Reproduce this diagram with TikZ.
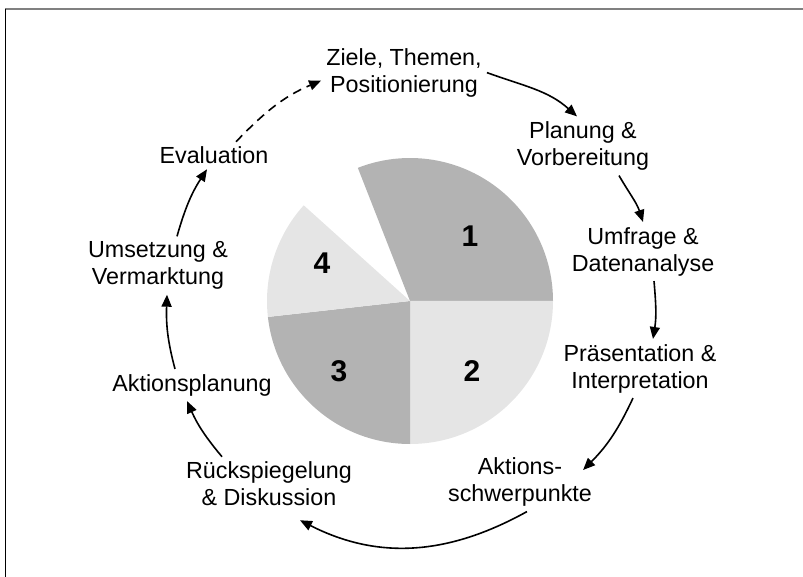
\documentclass[tikz,border=0pt]{standalone}
\usepackage{fontspec}
\setmainfont{Liberation Sans}
\usetikzlibrary{arrows.meta}
\definecolor{pieDark}{RGB}{179,179,179}
\definecolor{pieLight}{RGB}{229,229,229}

\begin{document}
\begin{tikzpicture}[x=1pt,y=1pt,
  every node/.style={align=center,inner sep=5pt,font=\fontsize{23.3}{27}\selectfont},
  num/.style={inner sep=0pt,font=\fontsize{30}{36}\selectfont\bfseries},
  cyc/.style={-{Triangle[length=12pt,width=10pt]},line width=1.6pt}]
  \useasboundingbox (0,0) rectangle (803,-577);
  \draw[gray,line width=1.5pt] (5,-9) -- (803,-9);
  \draw[line width=1pt] (5,-9) -- (5,-577);

  % pie in the middle
  \fill[pieDark]  (410,-301) -- ++(0:143) arc[start angle=0,end angle=111.4,radius=143] -- cycle;
  \fill[pieLight] (410,-301) -- ++(-90:143) arc[start angle=-90,end angle=0,radius=143] -- cycle;
  \fill[pieDark]  (410,-301) -- ++(186.4:143) arc[start angle=186.4,end angle=270,radius=143] -- cycle;
  \fill[pieLight] (410,-301) -- ++(138:143) arc[start angle=138,end angle=186.4,radius=143] -- cycle;

  \node[num] (n1) at (470,-236) {1};
  \node[num] (n2) at (472,-371) {2};
  \node[num] (n3) at (339,-371) {3};
  \node[num] (n4) at (322,-263) {4};

  % steps of the cycle
  \node (ziel) at (404,-72.6) {Ziele, Themen,\\Positionierung};
  \node (plan) at (583,-146)  {Planung \&\\Vorbereitung};
  \node (umf)  at (643,-251.5){Umfrage \&\\Datenanalyse};
  \node (pra)  at (640,-368.5){Präsentation \&\\Interpretation};
  \node (akt)  at (520,-482)  {Aktions-\\schwerpunkte};
  \node (rue)  at (269,-484)  {Rückspiegelung\\\& Diskussion};
  \node (apl)  at (192,-385)  {Aktionsplanung};
  \node (ums)  at (158,-265.5){Umsetzung \&\\Vermarktung};
  \node (eva)  at (214,-155.5){Evaluation};

  \draw[cyc] (ziel.east) to[out=-20,in=138] ([xshift=-6pt]plan.north);
  \draw[cyc] ([xshift=36pt]plan.south) to[out=-60,in=108] (umf.north);
  \draw[cyc] ([xshift=11pt]umf.south) to[out=-85,in=81] ([xshift=13pt]pra.north);
  \draw[cyc] ([xshift=-7pt]pra.south) to[out=-115,in=45] ([shift={(-14pt,12pt)}]akt.east);
  \draw[cyc] ([xshift=7pt]akt.south) to[out=-151,in=-27] ([shift={(31pt,-9pt)}]rue.south);
  \draw[cyc] ([xshift=-47pt]rue.north) to[out=130,in=-66] ([xshift=-5pt]apl.south);
  \draw[cyc] ([xshift=-17pt]apl.north) to[out=105,in=-92] ([xshift=9pt]ums.south);
  \draw[cyc] ([xshift=19pt]ums.north) to[out=74,in=-123] ([xshift=-7pt]eva.south);
  \draw[cyc,dash pattern=on 9pt off 6pt] ([xshift=22pt]eva.north) to[out=46,in=-157] ([yshift=-8pt]ziel.west);
\end{tikzpicture}
\end{document}
